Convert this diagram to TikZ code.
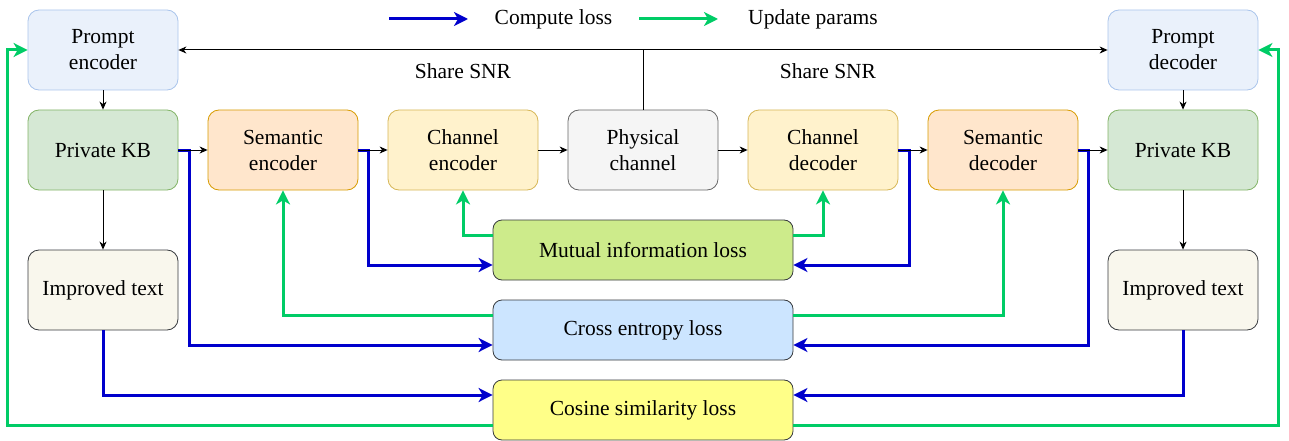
\documentclass[tikz,border=0pt]{standalone}
\usepackage{fontspec}
\setmainfont{Liberation Serif}
\newfontfamily\tnrfont{Liberation Serif}
\usetikzlibrary{arrows.meta,calc,positioning}
\definecolor{blueline}{HTML}{0000CC}
\definecolor{greenline}{HTML}{00CC66}
\definecolor{promptfill}{HTML}{EAF1FB}
\definecolor{promptdraw}{HTML}{A9C4EB}
\definecolor{kbfill}{HTML}{D5E8D4}
\definecolor{kbdraw}{HTML}{82B366}
\definecolor{semfill}{HTML}{FFE6CC}
\definecolor{semdraw}{HTML}{D79B00}
\definecolor{chfill}{HTML}{FFF2CC}
\definecolor{chdraw}{HTML}{D6B656}
\definecolor{phyfill}{HTML}{F5F5F5}
\definecolor{phydraw}{HTML}{666666}
\definecolor{itfill}{HTML}{F9F7ED}
\definecolor{darkdraw}{HTML}{36393D}
\definecolor{mifill}{HTML}{CDEB8B}
\definecolor{cefill}{HTML}{CCE5FF}
\definecolor{csfill}{HTML}{FFFF88}
\tikzset{
  every node/.style={font=\tnrfont\fontsize{21.5}{26}\selectfont},
  box/.style={rectangle, rounded corners=11pt, minimum width=150pt, minimum height=80pt, align=center, inner sep=0pt, line width=0.8pt},
  lossbox/.style={rectangle, rounded corners=9pt, minimum width=300pt, minimum height=60pt, align=center, inner sep=0pt, line width=0.8pt, draw=darkdraw},
  promptbox/.style={box, fill=promptfill, draw=promptdraw},
  kbbox/.style={box, fill=kbfill, draw=kbdraw},
  sembox/.style={box, fill=semfill, draw=semdraw},
  chbox/.style={box, fill=chfill, draw=chdraw},
  phybox/.style={box, fill=phyfill, draw=phydraw},
  itbox/.style={box, fill=itfill, draw=darkdraw},
  blackarrow/.style={line width=1pt, -{Stealth[length=8pt,width=7pt,inset=2.5pt]}},
  bluearrow/.style={draw=blueline, line width=3pt, -{Stealth[length=14pt,width=14pt,inset=4pt]}},
  greenarrow/.style={draw=greenline, line width=3pt, -{Stealth[length=14pt,width=14pt,inset=4pt]}},
  lbl/.style={inner sep=0pt}
}
\begin{document}
\begin{tikzpicture}[x=1pt,y=-1pt]
\useasboundingbox (0,0) rectangle (1289,441);
% nodes
\node[promptbox] (penc) at (103,50) {Prompt\\encoder};
\node[promptbox] (pdec) at (1183,50) {Prompt\\decoder};
\node[kbbox] (kbL) at (103,150) {Private KB};
\node[sembox] (senc) at (283,150) {Semantic\\encoder};
\node[chbox] (cenc) at (463,150) {Channel\\encoder};
\node[phybox] (phys) at (643,150) {Physical\\channel};
\node[chbox] (cdec) at (823,150) {Channel\\decoder};
\node[sembox] (sdec) at (1003,150) {Semantic\\decoder};
\node[kbbox] (kbR) at (1183,150) {Private KB};
\node[itbox] (itL) at (103,290) {Improved text};
\node[itbox] (itR) at (1183,290) {Improved text};
\node[lossbox, fill=mifill] (mi) at (643,250) {Mutual information loss};
\node[lossbox, fill=cefill] (ce) at (643,330) {Cross entropy loss};
\node[lossbox, fill=csfill] (cs) at (643,410) {Cosine similarity loss};
% legend
\coordinate (la1) at (389,19);
\coordinate (la2) at (468,19);
\coordinate (lb1) at (639,19);
\coordinate (lb2) at (718,19);
\draw[bluearrow] (la1) -- (la2);
\draw[greenarrow] (lb1) -- (lb2);
\node[lbl] (lta) at (553.5,19) {Compute loss};
\node[lbl] (ltb) at (813,19) {Update params};
% share SNR
\draw[line width=1pt, {Stealth[length=8pt,width=7pt,inset=2.5pt]}-{Stealth[length=8pt,width=7pt,inset=2.5pt]}] (penc.east) -- (pdec.west);
\draw[line width=1pt] (phys.north) -- (phys.north |- penc.east);
\node[lbl] (snrL) at (463,71) {Share SNR};
\node[lbl] (snrR) at (828,71) {Share SNR};
% colored connectors (below black arrows)
\draw[bluearrow] (kbL.east) -- ++(11,0) |- ($(ce.west)+(0,15)$);
\draw[greenarrow] ($(ce.west)+(0,-15)$) -| (senc.south);
\draw[bluearrow] (senc.east) -- ++(10,0) |- ($(mi.west)+(0,15)$);
\draw[greenarrow] ($(mi.west)+(0,-15)$) -| (cenc.south);
\draw[greenarrow] ($(mi.east)+(0,-15)$) -| (cdec.south);
\draw[bluearrow] (cdec.east) -- ++(11,0) |- ($(mi.east)+(0,15)$);
\draw[greenarrow] ($(ce.east)+(0,-15)$) -| (sdec.south);
\draw[bluearrow] (sdec.east) -- ++(10,0) |- ($(ce.east)+(0,15)$);
\draw[bluearrow] (itL.south) |- ($(cs.west)+(0,-15)$);
\draw[bluearrow] (itR.south) |- ($(cs.east)+(0,-15)$);
\draw[greenarrow] ($(cs.west)+(0,15)$) -| ($(penc.west)+(-20,0)$) -- (penc.west);
\draw[greenarrow] ($(cs.east)+(0,15)$) -| ($(pdec.east)+(20,0)$) -- (pdec.east);
% black arrows
\draw[blackarrow] (penc) -- (kbL);
\draw[blackarrow] (kbL) -- (itL);
\draw[blackarrow] (kbL) -- (senc);
\draw[blackarrow] (senc) -- (cenc);
\draw[blackarrow] (cenc) -- (phys);
\draw[blackarrow] (phys) -- (cdec);
\draw[blackarrow] (cdec) -- (sdec);
\draw[blackarrow] (sdec) -- (kbR);
\draw[blackarrow] (pdec) -- (kbR);
\draw[blackarrow] (kbR) -- (itR);
\end{tikzpicture}
\end{document}
